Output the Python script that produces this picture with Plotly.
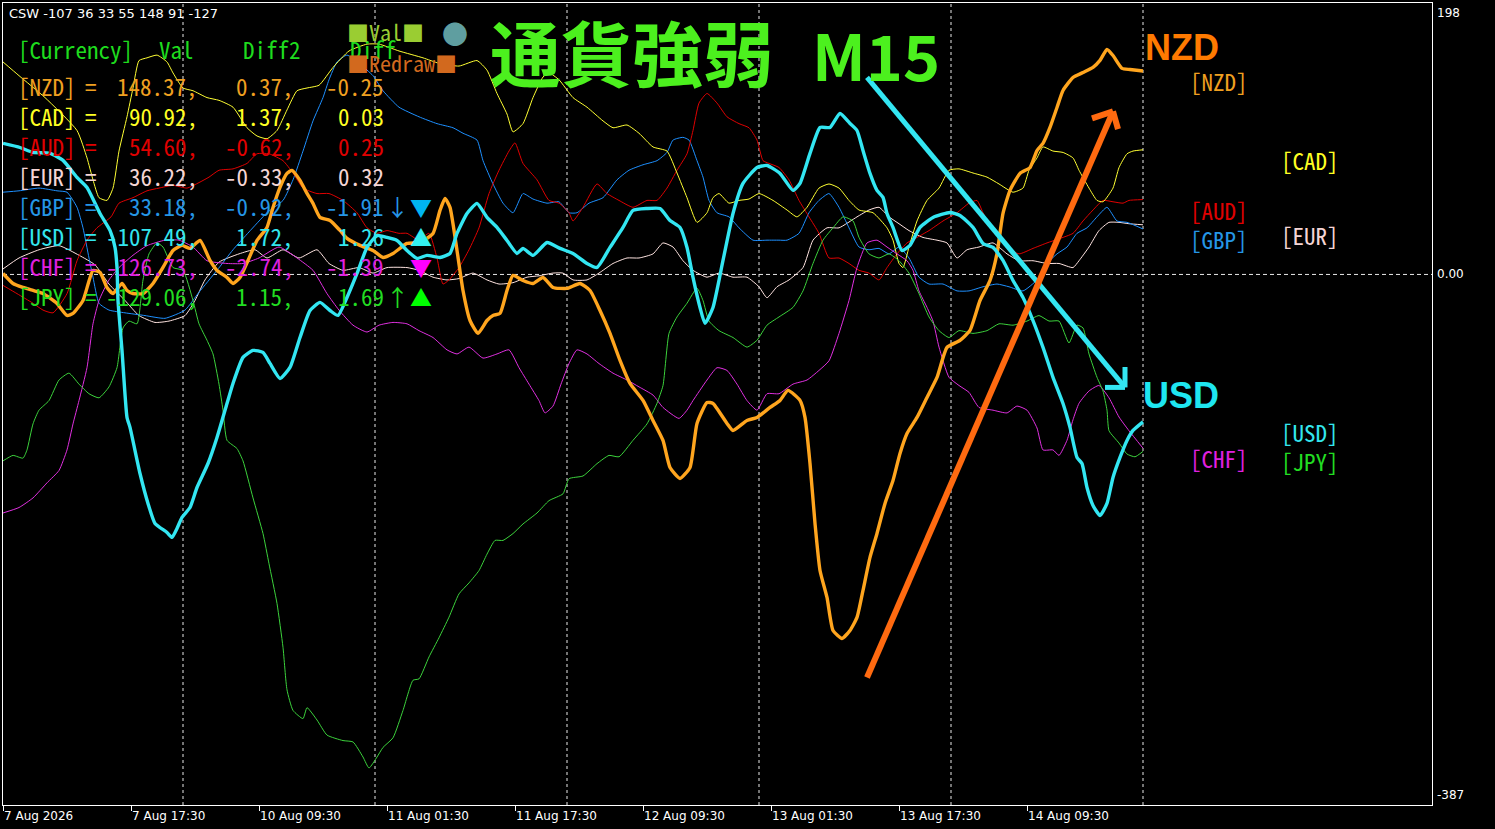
import plotly.graph_objects as go

# ---------------- data (bar index, strength value) ----------------
currencies = ["USD", "EUR", "GBP", "AUD", "NZD", "CAD", "CHF", "JPY"]

usd_x = [0, 8.5, 15, 23.5, 30, 37, 42, 48.5, 53.5, 56, 57, 57.5, 59.5, 62, 63.5, 68.5, 72.5, 76, 82, 84.5, 87, 89.5, 93.5, 97,
         102.5, 107, 112, 115, 120, 125, 130, 133.5, 138.5, 143.5, 148.5, 153.5, 158.5, 163.5, 167.5, 172, 177, 182, 187, 192,
         197, 202, 207, 212, 218.5, 223.5, 227, 232, 237, 242, 247, 252, 257, 260, 265, 272, 278.5, 285, 292, 297, 303.5, 310,
         315, 322, 328.5, 333.5, 338.5, 342, 345, 348.5, 351, 355, 360, 365, 370, 377, 382, 388.5, 395, 398.5, 403.5, 408.5,
         413.5, 418.5, 423.5, 427, 430, 433.5, 437, 440, 442, 445, 449.5, 453.5, 458.5, 465, 473.5, 478.5, 485, 490, 495, 500,
         505, 510, 515, 520, 525, 530, 533.5, 537, 539.5, 542, 545, 548.5, 552, 555, 558.5, 562, 565, 570]
usd_y = [95.6, 92.6, 89.0, 88.3, 83.2, 70.8, 63.5, 44.5, 32.1, 19.7, 5.1, -19.0, -55.4, -104.3, -111.6, -145.2, -167.0,
         -181.6, -188.2, -191.8, -185.3, -177.2, -170.0, -155.4, -137.9, -118.9, -94.1, -79.5, -60.5, -55.4, -56.9, -64.9,
         -75.9, -67.8, -46.0, -26.3, -20.4, -26.3, -29.9, -16.8, 0.7, 19.7, 28.4, 27.0, 24.8, 17.5, 11.7, 13.9, 12.4, 15.3,
         29.9, 44.5, 51.8, 41.6, 34.3, 24.8, 15.3, 19.0, 13.9, 23.3, 19.0, 15.3, 8.0, 5.1, 19.7, 34.3, 46.7, 48.1, 48.1, 39.4,
         34.3, 19.7, -2.2, -24.1, -35.7, -24.1, 10.2, 44.5, 66.4, 78.0, 79.5, 73.7, 61.3, 66.4, 88.3, 107.2, 107.2, 117.4,
         110.1, 105.0, 90.4, 73.7, 61.3, 56.2, 44.5, 34.3, 17.5, 21.2, 34.3, 41.6, 45.2, 43.0, 34.3, 22.6, 19.7, 10.2, -4.4,
         -16.8, -33.6, -53.2, -75.1, -94.1, -111.6, -133.5, -137.9, -155.4, -168.5, -175.8, -167.0, -148.1, -133.5, -121.1,
         -113.8, -107.49]

nzd_x = [0, 5, 10, 15, 20, 27, 32, 35, 40, 45, 48.5, 52, 55, 59.5, 62, 65, 70, 75, 80, 85, 89.5, 93.5, 98.5, 103.5, 107,
         112, 115, 118.5, 122.5, 127, 132, 135, 138.5, 142, 144.5, 148.5, 152, 155, 158.5, 163.5, 168.5, 172, 178.5, 185,
         190, 195, 202, 208.5, 215, 218.5, 221, 223.5, 227, 230, 233.5, 237.5, 242, 245, 248.5, 252, 255, 260, 265, 270,
         275, 282, 288.5, 293.5, 298.5, 303.5, 308.5, 313.5, 320, 325, 330, 333.5, 338.5, 343.5, 347, 352, 355, 362, 365,
         372, 377, 383.5, 388.5, 392.5, 398.5, 401, 403.5, 406, 408.5, 412, 415, 419.5, 423.5, 427, 430, 433.5, 437, 441,
         445, 448.5, 452, 457, 462, 467, 472, 478.5, 483.5, 488.5, 493.5, 497, 500, 503.5, 508.5, 513.5, 517, 520, 523.5,
         527, 530, 535, 540, 545, 548.5, 552, 555, 559.5, 563.5, 570]
nzd_y = [0.7, -6.6, -9.5, -11.7, -13.9, -21.2, -29.9, -28.4, -19.0, 2.9, 1.5, -9.5, -13.9, -6.6, -11.7, -13.9, -13.9, -6.6,
         5.1, 17.5, 21.2, 19.0, 24.8, 10.2, 2.9, -2.2, -6.6, -2.2, 10.2, 24.8, 34.3, 48.9, 63.5, 73.7, 75.9, 68.6, 59.1,
         51.8, 41.6, 39.4, 32.1, 26.3, 21.2, 17.5, 12.4, 15.3, 22.6, 23.3, 29.9, 46.7, 55.4, 48.9, 17.5, -11.7, -33.6,
         -43.0, -33.6, -29.9, -28.4, -11.7, -0.7, -4.4, -6.6, -2.2, -9.5, -10.2, -6.6, -11.7, -26.3, -43.0, -62.7, -79.5,
         -91.9, -106.5, -121.1, -140.8, -148.8, -140.8, -108.7, -93.4, -94.1, -108.7, -113.8, -106.5, -104.3, -97.0,
         -91.9, -84.6, -91.9, -104.3, -137.9, -181.6, -215.9, -235.6, -259.7, -265.5, -259.7, -250.2, -230.5, -206.4,
         -188.9, -167.0, -150.3, -130.6, -116.0, -104.3, -89.7, -75.1, -53.2, -48.1, -40.8, -19.0, -4.4, 15.3, 44.5, 61.3,
         73.7, 78.0, 90.4, 95.6, 107.2, 121.8, 134.2, 143.7, 147.3, 151.0, 156.1, 164.1, 159.7, 150.3, 149.5, 148.37]

cad_x = [0, 8, 21, 37, 42, 45, 48, 52, 55, 58, 62, 65, 68, 72, 77, 82, 85, 90, 95, 102, 108, 115, 122, 127, 132, 137, 142,
         147, 152, 158, 165, 173, 182, 188, 198, 210, 218, 228, 237, 242, 247, 252, 255, 260, 265, 270, 273, 278, 285, 292,
         300, 305, 312, 318, 325, 332, 337, 342, 347, 352, 355, 358, 363, 368, 373, 378, 385, 392, 397, 402, 408, 413, 418,
         423, 428, 435, 442, 445, 448, 450, 453, 457, 462, 468, 473, 478, 485, 492, 498, 505, 510, 513, 517, 520, 525, 530,
         535, 538, 543, 547, 550, 555, 558, 562, 565, 570]
cad_y = [155, 145, 129, 105, 85, 69, 56, 54, 63, 90, 115, 136, 156, 158, 160, 155, 147, 136, 134, 129, 127, 122, 107, 101,
         99, 105, 120, 134, 136, 138, 151, 163, 168, 168, 163, 158, 154, 152, 156, 149, 132, 117, 104, 110, 129, 144, 147,
         142, 129, 122, 112, 107, 109, 103, 93, 90, 74, 56, 38, 45, 56, 59, 52, 54, 55, 59, 54, 47, 42, 49, 63, 66, 63, 54,
         47, 45, 34, 25, 8, 5, 20, 39, 54, 63, 76, 77, 74, 71, 66, 60, 63, 76, 85, 93, 90, 89, 85, 76, 63, 54, 53, 63, 78,
         88, 90, 90.92]

aud_x = [0, 7, 15, 20, 25, 32, 37, 42, 47, 54, 58, 65, 72, 78, 85, 92, 98, 103, 108, 115, 122, 127, 133, 140, 145, 150,
         157, 163, 170, 177, 182, 187, 192, 198, 202, 208, 213, 217, 220, 223, 228, 233, 238, 243, 248, 253, 256, 260, 267,
         273, 278, 283, 285, 290, 297, 302, 308, 315, 322, 327, 332, 337, 342, 345, 348, 352, 357, 362, 368, 373, 377, 380,
         383, 388, 393, 398, 403, 408, 413, 418, 423, 428, 433, 438, 442, 447, 452, 457, 463, 470, 477, 483, 487, 490, 495,
         502, 508, 515, 522, 528, 535, 540, 545, 550, 555, 560, 563, 570]
aud_y = [-8, -14, -21, -26, -28, -14, 10, 25, 34, 42, 52, 56, 61, 63, 65, 63, 67, 71, 76, 77, 81, 88, 88, 83, 74, 63, 59,
         59, 54, 45, 34, 30, 32, 30, 30, 25, 30, 12, -7, -4, 5, 18, 34, 59, 76, 90, 96, 81, 69, 54, 52, 45, 39, 49, 66, 59,
         54, 49, 54, 54, 63, 76, 88, 105, 125, 132, 125, 115, 110, 107, 98, 83, 81, 78, 69, 54, 42, 30, 12, 12, 8, 3, 1, -4,
         5, 15, 23, 27, 32, 39, 45, 52, 54, 45, 32, 20, 15, 19, 23, 26, 30, 39, 47, 54, 53, 52, 54, 54.6]

gbp_x = [0, 8, 18, 27, 32, 37, 40, 43, 45, 48, 53, 61, 71, 81, 91, 98, 107, 115, 123, 132, 140, 145, 150, 155, 160, 163,
         167, 172, 178, 185, 190, 198, 208, 217, 225, 230, 237, 240, 245, 250, 255, 260, 265, 272, 278, 283, 287, 293, 300,
         307, 313, 320, 327, 332, 335, 340, 343, 347, 350, 353, 357, 363, 368, 375, 382, 388, 392, 398, 403, 408, 413, 418,
         423, 428, 433, 438, 443, 448, 453, 458, 463, 470, 477, 483, 490, 497, 503, 510, 517, 522, 527, 532, 537, 542, 547,
         552, 557, 562, 570]
gbp_y = [60, 61, 63, 61, 60, 49, 34, 12, -2, -21, -26, -28, -30, -32, -26, -13, 3, 18, 31, 45, 54, 69, 90, 112, 129, 142,
         155, 160, 154, 145, 134, 122, 115, 110, 107, 103, 98, 83, 66, 52, 45, 59, 55, 52, 53, 45, 45, 52, 56, 69, 76, 80,
         83, 89, 98, 100, 98, 83, 71, 54, 45, 42, 34, 25, 25, 25, 25, 30, 45, 54, 59, 49, 34, 20, 18, 19, 15, 20, 12, -2, -7,
         -7, -12, -12, -9, -7, -9, -12, -4, 8, 15, 20, 30, 34, 42, 49, 39, 38, 33.18]

eur_x = [0, 8, 18, 28, 38, 46, 53, 61, 68, 76, 83, 91, 96, 101, 108, 118, 126, 132, 140, 148, 157, 163, 170, 178, 185,
         192, 202, 208, 215, 222, 228, 235, 242, 248, 255, 262, 268, 275, 280, 285, 292, 298, 305, 312, 318, 325, 330, 335,
         340, 345, 352, 358, 365, 372, 378, 382, 387, 393, 400, 405, 412, 418, 427, 433, 438, 443, 448, 453, 460, 467, 472,
         477, 482, 488, 495, 502, 508, 515, 522, 528, 535, 538, 543, 548, 553, 558, 563, 570]
eur_y = [4, 12, 18, 21, 14, 7, -7, -19, -30, -35, -34, -30, -19, -4, 9, 15, 18, 12, 18, 12, 18, 8, 3, 5, 1, 5, 5, 3, -2,
         -4, -3, 1, -4, -7, -6, -2, -1, 1, 1, -4, -4, 1, 8, 12, 12, 15, 23, 20, 10, 3, -2, 1, -2, -2, -9, -17, -9, -4, 5, 25,
         34, 34, 42, 47, 49, 42, 37, 32, 27, 25, 23, 12, 18, 20, 23, 15, 10, 10, 8, 8, 5, 10, 20, 32, 38, 38, 37, 36.22]

chf_x = [0, 8, 15, 22, 28, 32, 35, 38, 42, 45, 48, 53, 58, 65, 72, 81, 88, 95, 102, 112, 120, 128, 138, 147, 155, 162,
         168, 175, 182, 188, 195, 202, 208, 215, 222, 227, 233, 240, 247, 253, 258, 263, 268, 271, 275, 279, 283, 287, 292,
         298, 305, 312, 318, 325, 330, 338, 342, 345, 352, 357, 362, 367, 372, 377, 382, 388, 395, 402, 408, 413, 418, 423,
         427, 432, 437, 442, 447, 452, 455, 458, 462, 465, 468, 473, 478, 483, 488, 495, 502, 507, 512, 517, 520, 525, 528,
         532, 535, 538, 543, 548, 553, 558, 563, 570]
chf_y = [-174, -170, -163, -152, -143, -128, -109, -92, -68, -36, -19, -4, 5, 14, 21, 25, 25, 20, 10, 8, 8, 12, 20, 12, 3,
         -14, -26, -37, -42, -37, -35, -36, -41, -46, -55, -58, -53, -61, -58, -55, -68, -80, -92, -101, -96, -80, -65, -55,
         -58, -65, -72, -77, -82, -88, -97, -105, -99, -92, -77, -68, -70, -80, -92, -99, -87, -87, -80, -77, -70, -63, -43,
         -19, 5, 23, 25, 20, 15, 10, 3, -12, -24, -34, -53, -75, -81, -86, -97, -99, -101, -96, -99, -112, -128, -128,
         -132, -121, -106, -94, -85, -81, -90, -104, -114, -126.73]

jpy_x = [0, 5, 10, 12, 15, 18, 23, 28, 33, 38, 43, 48, 53, 57, 60, 63, 67, 70, 73, 77, 80, 85, 90, 95, 98, 102, 105, 108,
         110, 112, 117, 120, 125, 130, 133, 137, 140, 142, 145, 150, 152, 157, 162, 170, 175, 180, 183, 187, 190, 195, 200,
         205, 208, 213, 218, 223, 228, 233, 238, 242, 246, 250, 255, 260, 267, 273, 280, 283, 290, 297, 303, 308, 315, 322,
         327, 330, 333, 337, 342, 347, 350, 353, 358, 365, 372, 377, 382, 388, 395, 400, 405, 410, 415, 420, 425, 428, 433,
         438, 443, 448, 453, 458, 463, 468, 473, 478, 485, 492, 498, 505, 512, 518, 523, 528, 533, 537, 540, 543, 547, 550,
         552, 553, 558, 562, 566, 570]
jpy_y = [-136, -132, -134, -128, -109, -99, -92, -77, -72, -80, -87, -90, -82, -68, -39, -34, -36, -4, 15, 23, 20, 5, 3,
         -19, -36, -48, -58, -80, -99, -121, -127, -136, -163, -189, -211, -240, -272, -303, -318, -324, -316, -325, -336,
         -340, -341, -352, -360, -352, -345, -338, -318, -296, -295, -279, -265, -250, -233, -225, -216, -204, -194, -194,
         -189, -182, -174, -165, -160, -149, -147, -138, -132, -133, -121, -109, -94, -81, -43, -31, -21, -10, -19, -34,
         -41, -46, -53, -48, -37, -31, -24, -12, 8, 25, 34, 42, 39, 27, 15, 12, 15, 10, 1, -14, -31, -41, -46, -41, -43,
         -41, -36, -37, -34, -30, -34, -34, -50, -37, -39, -58, -75, -85, -99, -114, -123, -131, -133, -129.06]

diff2 = {"NZD": 0.37, "CAD": 1.37, "AUD": -0.62, "EUR": -0.33, "GBP": -0.92, "USD": 1.72, "CHF": -2.74, "JPY": 1.15}
diff1 = {"NZD": -0.25, "CAD": 0.03, "AUD": 0.25, "EUR": 0.32, "GBP": -1.91, "USD": 1.26, "CHF": -1.39, "JPY": 1.69}
arrow_mark = {"GBP": "↓", "JPY": "↑"}
tri_mark = {"GBP": "▼", "USD": "▲", "CHF": "▼", "JPY": "▲"}

tick_bars = [0, 64, 128, 192, 256, 320, 384, 448, 512]
tick_text = ["7 Aug 2026", "7 Aug 17:30", "10 Aug 09:30", "11 Aug 01:30", "11 Aug 17:30",
             "12 Aug 09:30", "13 Aug 01:30", "13 Aug 17:30", "14 Aug 09:30"]
grid_bars = [90, 186, 282, 378, 474, 570]
y_min, y_max = -387, 198

# ---------------- styles ----------------
series = {
    "USD": (usd_x, usd_y), "EUR": (eur_x, eur_y), "GBP": (gbp_x, gbp_y), "AUD": (aud_x, aud_y),
    "NZD": (nzd_x, nzd_y), "CAD": (cad_x, cad_y), "CHF": (chf_x, chf_y), "JPY": (jpy_x, jpy_y),
}
line_col = {"USD": "#33E6F2", "EUR": "#FFE4E1", "GBP": "#1E90FF", "AUD": "#E00000",
            "NZD": "#FFA51E", "CAD": "#FFFF33", "CHF": "#E030E0", "JPY": "#3CD23C"}
text_col = {"USD": "#33E6EE", "EUR": "#F5D5D5", "GBP": "#2596E6", "AUD": "#E00000",
            "NZD": "#F0A020", "CAD": "#FFFF22", "CHF": "#E020E0", "JPY": "#22DD22"}
tri_col = {"GBP": "#00B4F0", "USD": "#33F0F0", "CHF": "#FF00FF", "JPY": "#00FF00"}
thick = {"USD", "NZD"}

W, H = 1495, 829
L, R, T, B = 3, 1432, 3, 805
def PX(x):
    return (x - L) / (R - L)
def PY(y):
    return (B - y) / (B - T)

fig = go.Figure()
draw_order = ["EUR", "GBP", "AUD", "CAD", "CHF", "JPY", "NZD", "USD"]
for c in draw_order:
    xs, ys = series[c]
    fig.add_trace(go.Scatter(
        x=xs, y=ys, mode="lines", name=c,
        line=dict(color=line_col[c], width=3.4 if c in thick else 1, shape="spline", smoothing=0.5),
        hoverinfo="skip", showlegend=False))

shapes = []
for gb in grid_bars:
    shapes.append(dict(type="line", xref="x", yref="paper", x0=gb, x1=gb, y0=0, y1=1,
                       line=dict(color="#E8E8E8", width=1, dash="3px,3px"), layer="below"))
shapes.append(dict(type="line", xref="paper", yref="y", x0=0, x1=1, y0=0, y1=0,
                   line=dict(color="#E8E8E8", width=1, dash="4px,3px"), layer="below"))

# trend arrows (shaft + chevron head)
def arrow(x0, y0, x1, y1, a1, a2, col, w):
    out = [dict(type="line", xref="x", yref="y", x0=x0, y0=y0, x1=x1, y1=y1,
                line=dict(color=col, width=w), layer="above")]
    for (ax, ay) in (a1, a2):
        out.append(dict(type="line", xref="x", yref="y", x0=x1, y0=y1, x1=ax, y1=ay,
                        line=dict(color=col, width=w), layer="above"))
    return out

shapes += arrow(432, 143.7, 561, -82.4, (551, -82.4), (561, -67.5), "#33E6F2", 5)
shapes += arrow(432, -294, 555, 118.9, (544.5, 113.8), (557.5, 106.0), "#FF6A10", 6)

ann = []
mono = "Noto Sans Mono CJK JP, Liberation Mono, monospace"

# top-left info line
ann.append(dict(xref="paper", yref="paper", x=PX(7), y=PY(13), xanchor="left", yanchor="middle",
                text="CSW " + " ".join(str(round(series[c][1][-1])) for c in currencies[:7]),
                showarrow=False, font=dict(family="DejaVu Sans", size=13, color="#FFFFFF")))

# table header
hdr_col = "#1EDC1E"
for txt, xl in (("[Currency]", 16), ("Val", 157), ("Diff2", 241), ("Diff", 348)):
    ann.append(dict(xref="paper", yref="paper", x=PX(xl), y=PY(49), xanchor="left", yanchor="middle",
                    text=txt, showarrow=False, font=dict(family=mono, size=23, color=hdr_col)))

ranked = sorted(currencies, key=lambda c: series[c][1][-1], reverse=True)
for i, c in enumerate(ranked):
    yc = PY(86 + 30 * i)
    col = text_col[c]
    f = dict(family=mono, size=23, color=col)
    ann.append(dict(xref="paper", yref="paper", x=PX(16), y=yc, xanchor="left", yanchor="middle",
                    text="[" + c + "]", showarrow=False, font=f))
    ann.append(dict(xref="paper", yref="paper", x=PX(91), y=yc, xanchor="center", yanchor="middle",
                    text="=", showarrow=False, font=f))
    ann.append(dict(xref="paper", yref="paper", x=PX(200), y=yc, xanchor="right", yanchor="middle",
                    text=f"{series[c][1][-1]:.2f},", showarrow=False, font=f))
    ann.append(dict(xref="paper", yref="paper", x=PX(296), y=yc, xanchor="right", yanchor="middle",
                    text=f"{diff2[c]:.2f},", showarrow=False, font=f))
    ann.append(dict(xref="paper", yref="paper", x=PX(386), y=yc, xanchor="right", yanchor="middle",
                    text=f"{diff1[c]:.2f}", showarrow=False, font=f))
    if c in arrow_mark:
        ann.append(dict(xref="paper", yref="paper", x=PX(397), y=yc, xanchor="center", yanchor="middle",
                        text=arrow_mark[c], showarrow=False, font=f))
    if c in tri_mark:
        ann.append(dict(xref="paper", yref="paper", x=PX(421), y=yc, xanchor="center", yanchor="middle",
                        text=tri_mark[c], showarrow=False,
                        font=dict(family=mono, size=22, color=tri_col[c])))
    # right-hand labels, alternating columns, placed at the series' last value
    xl = 1188 if i % 2 == 0 else 1279
    ann.append(dict(xref="paper", yref="y", x=PX(xl), y=series[c][1][-1], xanchor="left", yanchor="middle",
                    yshift=-10, text="[" + c + "]", showarrow=False, font=f))

# buttons
ann.append(dict(xref="paper", yref="paper", x=PX(345), y=PY(31), xanchor="left", yanchor="middle",
                text="■Val■", showarrow=False, font=dict(family=mono, size=22, color="#9ACD32")))
ann.append(dict(xref="paper", yref="paper", x=PX(455), y=PY(32), xanchor="center", yanchor="middle",
                text="●", showarrow=False, font=dict(family=mono, size=26, color="#5F9EA0")))
ann.append(dict(xref="paper", yref="paper", x=PX(345), y=PY(62), xanchor="left", yanchor="middle",
                text="■Redraw■", showarrow=False, font=dict(family=mono, size=22, color="#D2691E")))

# title
title_col = "#4CF01E"
ann.append(dict(xref="paper", yref="paper", x=PX(488), y=PY(50), xanchor="left", yanchor="middle",
                text="<b>通貨強弱</b>", showarrow=False,
                font=dict(family="Noto Sans CJK JP", size=71, color=title_col)))
ann.append(dict(xref="paper", yref="paper", x=PX(810), y=PY(53), xanchor="left", yanchor="middle",
                text="<b>M15</b>", showarrow=False,
                font=dict(family="Noto Sans CJK JP", size=63, color=title_col)))

# big currency callouts
ann.append(dict(xref="paper", yref="paper", x=PX(1143), y=PY(47), xanchor="left", yanchor="middle",
                text="<b>NZD</b>", showarrow=False,
                font=dict(family="Liberation Sans, Arial", size=36, color="#FF7A00")))
ann.append(dict(xref="paper", yref="paper", x=PX(1141), y=PY(396), xanchor="left", yanchor="middle",
                text="<b>USD</b>", showarrow=False,
                font=dict(family="Liberation Sans, Arial", size=36, color="#1EE6F0")))

# right price scale labels
axfont = dict(family="DejaVu Sans", size=12, color="#FFFFFF")
ann.append(dict(xref="paper", yref="y", x=1, y=y_max, xanchor="left", yanchor="top", xshift=3, yshift=-1,
                text=str(y_max), showarrow=False, font=axfont))
ann.append(dict(xref="paper", yref="y", x=1, y=0, xanchor="left", yanchor="middle", xshift=3,
                text="0.00", showarrow=False, font=axfont))
ann.append(dict(xref="paper", yref="y", x=1, y=y_min, xanchor="left", yanchor="bottom", xshift=3, yshift=1,
                text=str(y_min), showarrow=False, font=axfont))

fig.update_layout(
    width=W, height=H,
    margin=dict(l=L, r=W - R, t=T, b=H - B, pad=0),
    paper_bgcolor="#000000", plot_bgcolor="#000000",
    shapes=shapes, annotations=ann, showlegend=False,
    xaxis=dict(range=[0, (R - L) / 2], showgrid=False, zeroline=False,
               showline=True, linecolor="#FFFFFF", linewidth=1, mirror=True,
               tickmode="array", tickvals=tick_bars, ticktext=tick_text,
               ticks="outside", ticklen=5, tickcolor="#FFFFFF", tickwidth=1,
               ticklabelposition="outside right", tickfont=axfont),
    yaxis=dict(range=[y_min, y_max], showgrid=False, zeroline=False, side="right",
               showline=True, linecolor="#FFFFFF", linewidth=1, mirror=True,
               showticklabels=False, ticks=""),
)

fig.write_html("out.html", config={"displayModeBar": False},
               post_script="document.body.style.margin='0px';document.body.style.background='#000000';")
